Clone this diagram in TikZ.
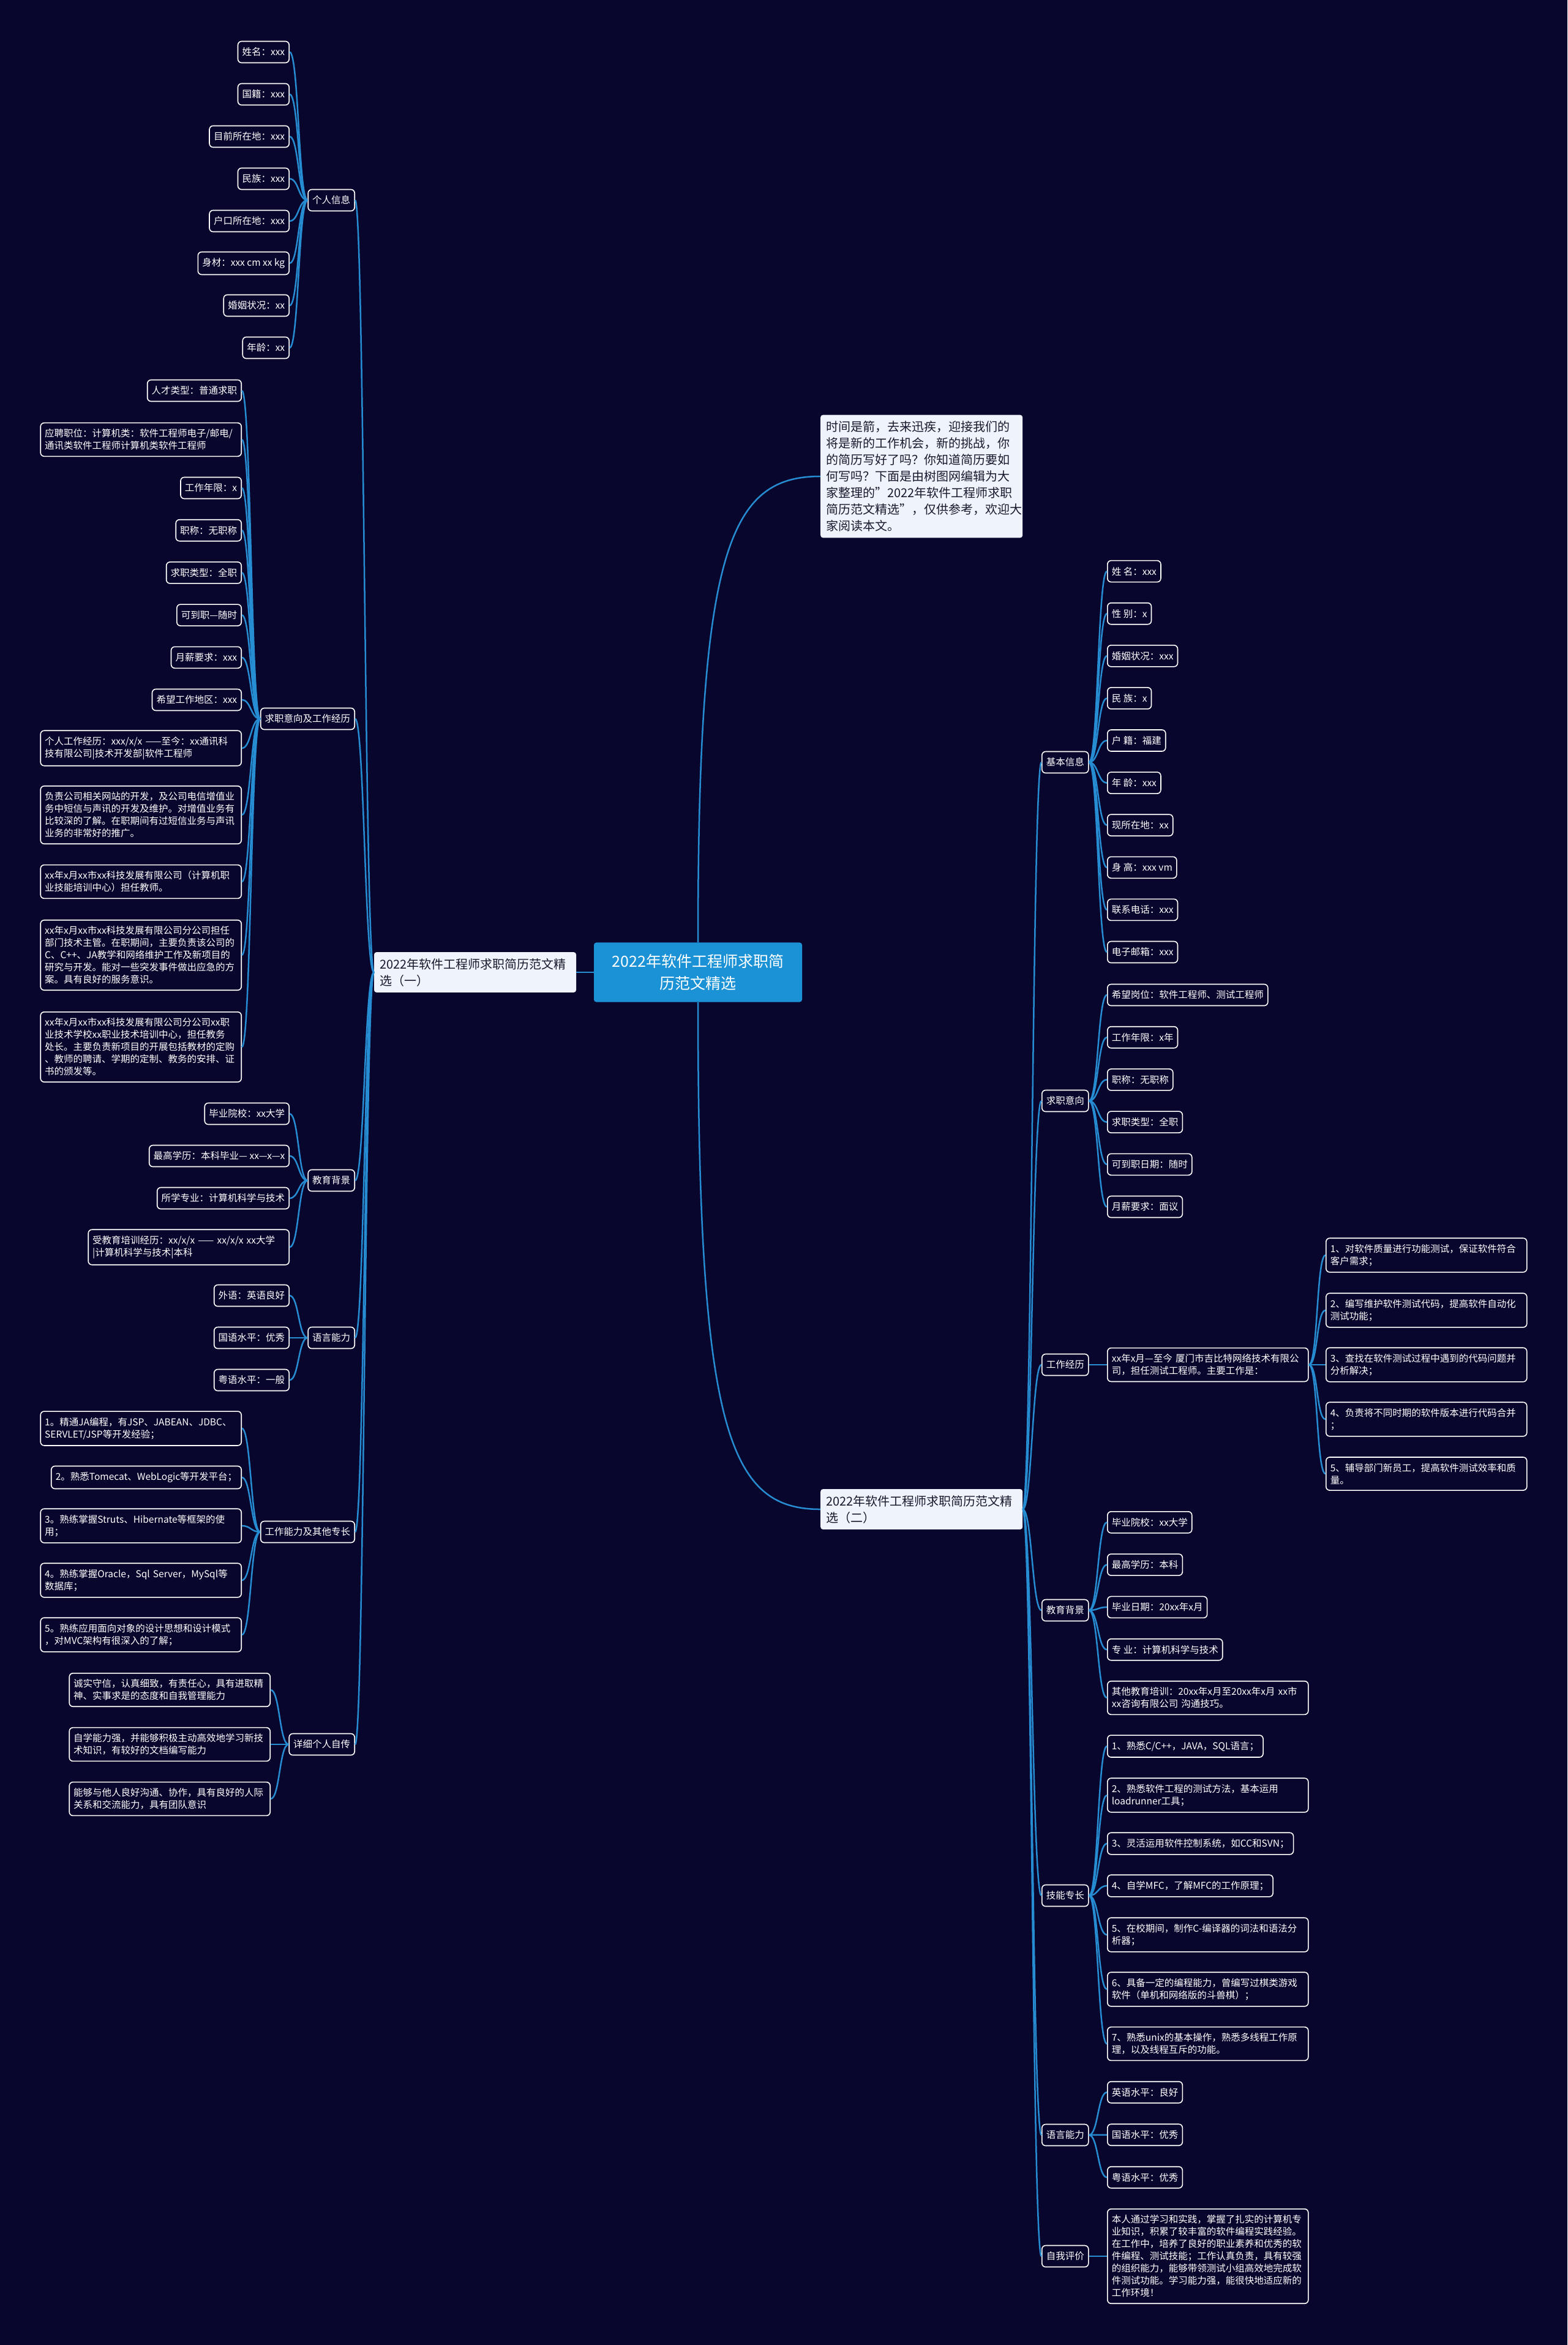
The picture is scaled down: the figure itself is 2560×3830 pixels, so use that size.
\documentclass[tikz,border=0pt]{standalone}
\usepackage{fontspec}
\setmainfont{Noto Sans CJK SC}

\definecolor{bgc}{RGB}{9,6,46}
\definecolor{linkc}{RGB}{38,141,210}
\definecolor{rootc}{RGB}{27,146,214}
\definecolor{paper}{RGB}{239,244,252}
\definecolor{ink}{RGB}{25,25,45}

\begin{document}
\begin{tikzpicture}[x=1pt, y=-1pt,
    link/.style={linkc, line width=2.5pt},
    leaf/.style={draw=white, line width=1.6pt, rounded corners=6pt, fill=bgc, text=white,
        font=\fontsize{15.5}{20}\selectfont, inner xsep=7pt, inner ysep=10pt,
        minimum height=35pt, align=left},
    wide/.style={leaf, text width=314pt},
    topic/.style={fill=paper, text=ink, rounded corners=4pt, font=\fontsize{20}{27}\selectfont,
        inner xsep=9pt, inner ysep=10pt, text width=312pt, align=left},
    root/.style={fill=rootc, text=white, rounded corners=4pt, font=\fontsize{25}{36}\selectfont,
        minimum width=340pt, inner ysep=19pt, align=center}]
    \fill[bgc] (0,0) rectangle (2560,3830);
    \useasboundingbox (0,0) rectangle (2560,3830);

    % centre and first level
    \node[root] (root) at (1140,1588) {2022年软件工程师求职简\\历范文精选};
    \node[topic] (one) at (776,1588) {2022年软件工程师求职简历范文精\\选（一）};
    \node[topic, anchor=west] (two) at (1340,2465) {2022年软件工程师求职简历范文精\\选（二）};
    \node[topic, anchor=west] (intro) at (1340,778) {时间是箭，去来迅疾，迎接我们的\\将是新的工作机会，新的挑战，你\\的简历写好了吗？你知道简历要如\\何写吗？下面是由树图网编辑为大\\家整理的"2022年软件工程师求职\\简历范文精选"，仅供参考，欢迎大\\家阅读本文。};

    % left branch (one)
    \foreach \n/\t/\y in {lPI/个人信息/327, lJob/求职意向及工作经历/1174, lEdu/教育背景/1928,
        lLang/语言能力/2185, lSkill/工作能力及其他专长/2502, lBio/详细个人自传/2849}
        \node[leaf, anchor=east] (\n) at (580,\y) {\t};

    \foreach \t [count=\i] in {姓名：xxx,国籍：xxx,目前所在地：xxx,民族：xxx,户口所在地：xxx,身材：xxx cm xx kg,婚姻状况：xx,年龄：xx}
        \node[leaf, anchor=east] (pi\i) at (473,16+69*\i) {\t};

    \node[leaf, anchor=east] (pj1) at (395,638) {人才类型：普通求职};
    \node[wide, anchor=east] (pj2) at (395,718) {应聘职位：计算机类：软件工程师电子/邮电/\\通讯类软件工程师计算机类软件工程师};
    \foreach \t [count=\i from 3] in {工作年限：x,职称：无职称,求职类型：全职,可到职—随时,月薪要求：xxx,希望工作地区：xxx}
        \node[leaf, anchor=east] (pj\i) at (395,797+69.2*\i-207.6) {\t};
    \node[wide, anchor=east] (pj9) at (395,1222) {个人工作经历：xxx/x/x ——至今：xx通讯科\\技有限公司|技术开发部|软件工程师};
    \node[wide, anchor=east] (pj10) at (395,1331) {负责公司相关网站的开发，及公司电信增值业\\务中短信与声讯的开发及维护。对增值业务有\\比较深的了解。在职期间有过短信业务与声讯\\业务的非常好的推广。};
    \node[wide, anchor=east] (pj11) at (395,1440) {xx年x月xx市xx科技发展有限公司（计算机职\\业技能培训中心）担任教师。};
    \node[wide, anchor=east] (pj12) at (395,1560) {xx年x月xx市xx科技发展有限公司分公司担任\\部门技术主管。在职期间，主要负责该公司的\\C、C++、JA教学和网络维护工作及新项目的\\研究与开发。能对一些突发事件做出应急的方\\案。具有良好的服务意识。};
    \node[wide, anchor=east] (pj13) at (395,1710) {xx年x月xx市xx科技发展有限公司分公司xx职\\业技术学校xx职业技术培训中心，担任教务\\处长。主要负责新项目的开展包括教材的定购\\、教师的聘请、学期的定制、教务的安排、证\\书的颁发等。};

    \foreach \t [count=\i] in {毕业院校：xx大学,最高学历：本科毕业— xx—x—x,所学专业：计算机科学与技术}
        \node[leaf, anchor=east] (pe\i) at (473,1750+69*\i) {\t};
    \node[wide, anchor=east] (pe4) at (473,2037) {受教育培训经历：xx/x/x —— xx/x/x xx大学\\|计算机科学与技术|本科};

    \foreach \t [count=\i] in {外语：英语良好,国语水平：优秀,粤语水平：一般}
        \node[leaf, anchor=east] (pl\i) at (473,2047+69*\i) {\t};

    \node[wide, anchor=east] (ps1) at (395,2333) {1。精通JA编程，有JSP、JABEAN、JDBC、\\SERVLET/JSP等开发经验；};
    \node[leaf, anchor=east] (ps2) at (395,2413) {2。熟悉Tomecat、WebLogic等开发平台；};
    \node[wide, anchor=east] (ps3) at (395,2492) {3。熟练掌握Struts、Hibernate等框架的使\\用；};
    \node[wide, anchor=east] (ps4) at (395,2581) {4。熟练掌握Oracle，Sql Server，MySql等\\数据库；};
    \node[wide, anchor=east] (ps5) at (395,2670) {5。熟练应用面向对象的设计思想和设计模式\\，对MVC架构有很深入的了解；};

    \node[wide, anchor=east] (pb1) at (442,2760) {诚实守信，认真细致，有责任心，具有进取精\\神、实事求是的态度和自我管理能力};
    \node[wide, anchor=east] (pb2) at (442,2849) {自学能力强，并能够积极主动高效地学习新技\\术知识，有较好的文档编写能力};
    \node[wide, anchor=east] (pb3) at (442,2938) {能够与他人良好沟通、协作，具有良好的人际\\关系和交流能力，具有团队意识};

    % right branch (two)
    \foreach \n/\t/\y in {rBasic/基本信息/1245, rJob/求职意向/1798, rWork/工作经历/2229, rEdu/教育背景/2630,
        rSkill/技能专长/3096, rLang/语言能力/3487, rSelf/自我评价/3685}
        \node[leaf, anchor=west] (\n) at (1701,\y) {\t};

    \foreach \t [count=\i] in {姓 名：xxx,性 别：x,婚姻状况：xxx,民 族：x,户 籍：福建,年 龄：xxx,现所在地：xx,身 高：xxx vm,联系电话：xxx,电子邮箱：xxx}
        \node[leaf, anchor=west] (rb\i) at (1808,864+69.1*\i) {\t};

    \foreach \t [count=\i] in {希望岗位：软件工程师、测试工程师,工作年限：x年,职称：无职称,求职类型：全职,可到职日期：随时,月薪要求：面议}
        \node[leaf, anchor=west] (rj\i) at (1808,1555.8+69.2*\i) {\t};

    \node[wide, anchor=west] (rwc) at (1808,2229) {xx年x月—至今 厦门市吉比特网络技术有限公\\司，担任测试工程师。主要工作是：};
    \node[wide, anchor=west] (rt1) at (2165,2050) {1、对软件质量进行功能测试，保证软件符合\\客户需求；};
    \node[wide, anchor=west] (rt2) at (2165,2140) {2、编写维护软件测试代码，提高软件自动化\\测试功能；};
    \node[wide, anchor=west] (rt3) at (2165,2229) {3、查找在软件测试过程中遇到的代码问题并\\分析解决；};
    \node[wide, anchor=west] (rt4) at (2165,2318) {4、负责将不同时期的软件版本进行代码合并\\；};
    \node[wide, anchor=west] (rt5) at (2165,2407) {5、辅导部门新员工，提高软件测试效率和质\\量。};

    \foreach \t [count=\i] in {毕业院校：xx大学,最高学历：本科,毕业日期：20xx年x月,专 业：计算机科学与技术}
        \node[leaf, anchor=west] (re\i) at (1808,2417+69.3*\i) {\t};
    \node[wide, anchor=west] (re5) at (1808,2773) {其他教育培训：20xx年x月至20xx年x月 xx市\\xx咨询有限公司 沟通技巧。};

    \node[leaf, anchor=west] (rs1) at (1808,2852) {1、熟悉C/C++，JAVA，SQL语言；};
    \node[wide, anchor=west] (rs2) at (1808,2932) {2、熟悉软件工程的测试方法，基本运用\\loadrunner工具；};
    \node[leaf, anchor=west] (rs3) at (1808,3011) {3、灵活运用软件控制系统，如CC和SVN；};
    \node[leaf, anchor=west] (rs4) at (1808,3080) {4、自学MFC，了解MFC的工作原理；};
    \node[wide, anchor=west] (rs5) at (1808,3160) {5、在校期间，制作C-编译器的词法和语法分\\析器；};
    \node[wide, anchor=west] (rs6) at (1808,3249) {6、具备一定的编程能力，曾编写过棋类游戏\\软件（单机和网络版的斗兽棋）；};
    \node[wide, anchor=west] (rs7) at (1808,3338) {7、熟悉unix的基本操作，熟悉多线程工作原\\理，以及线程互斥的功能。};

    \foreach \t [count=\i] in {英语水平：良好,国语水平：优秀,粤语水平：优秀}
        \node[leaf, anchor=west] (rl\i) at (1808,3347.7+69.5*\i) {\t};

    \node[wide, anchor=west] (rself) at (1808,3685) {本人通过学习和实践，掌握了扎实的计算机专\\业知识，积累了较丰富的软件编程实践经验。\\在工作中，培养了良好的职业素养和优秀的软\\件编程、测试技能；工作认真负责，具有较强\\的组织能力，能够带领测试小组高效地完成软\\件测试功能。学习能力强，能很快地适应新的\\工作环境！};

    % connectors
    \draw[link] (root.west) -- (one.east);
    \draw[link] (root.north) .. controls +(0,-640) and +(-150,0) .. (intro.west);
    \draw[link] (root.south) .. controls +(0,700) and +(-150,0) .. (two.west);

    \foreach \n in {lPI,lJob,lEdu,lLang,lSkill,lBio}
        \draw[link] (one.west) .. controls +(-15,0) and +(15,0) .. (\n.east);
    \foreach \i in {1,...,8} \draw[link] (lPI.west) .. controls +(-15,0) and +(15,0) .. (pi\i.east);
    \foreach \i in {1,...,13} \draw[link] (lJob.west) .. controls +(-15,0) and +(15,0) .. (pj\i.east);
    \foreach \i in {1,...,4} \draw[link] (lEdu.west) .. controls +(-15,0) and +(15,0) .. (pe\i.east);
    \foreach \i in {1,2,3} \draw[link] (lLang.west) .. controls +(-15,0) and +(15,0) .. (pl\i.east);
    \foreach \i in {1,...,5} \draw[link] (lSkill.west) .. controls +(-15,0) and +(15,0) .. (ps\i.east);
    \foreach \i in {1,2,3} \draw[link] (lBio.west) .. controls +(-15,0) and +(15,0) .. (pb\i.east);

    \foreach \n in {rBasic,rJob,rWork,rEdu,rSkill,rLang,rSelf}
        \draw[link] (two.east) .. controls +(15,0) and +(-15,0) .. (\n.west);
    \foreach \i in {1,...,10} \draw[link] (rBasic.east) .. controls +(15,0) and +(-15,0) .. (rb\i.west);
    \foreach \i in {1,...,6} \draw[link] (rJob.east) .. controls +(15,0) and +(-15,0) .. (rj\i.west);
    \draw[link] (rWork.east) -- (rwc.west);
    \foreach \i in {1,...,5} \draw[link] (rwc.east) .. controls +(15,0) and +(-15,0) .. (rt\i.west);
    \foreach \i in {1,...,5} \draw[link] (rEdu.east) .. controls +(15,0) and +(-15,0) .. (re\i.west);
    \foreach \i in {1,...,7} \draw[link] (rSkill.east) .. controls +(15,0) and +(-15,0) .. (rs\i.west);
    \foreach \i in {1,2,3} \draw[link] (rLang.east) .. controls +(15,0) and +(-15,0) .. (rl\i.west);
    \draw[link] (rSelf.east) -- (rself.west);
\end{tikzpicture}
\end{document}
